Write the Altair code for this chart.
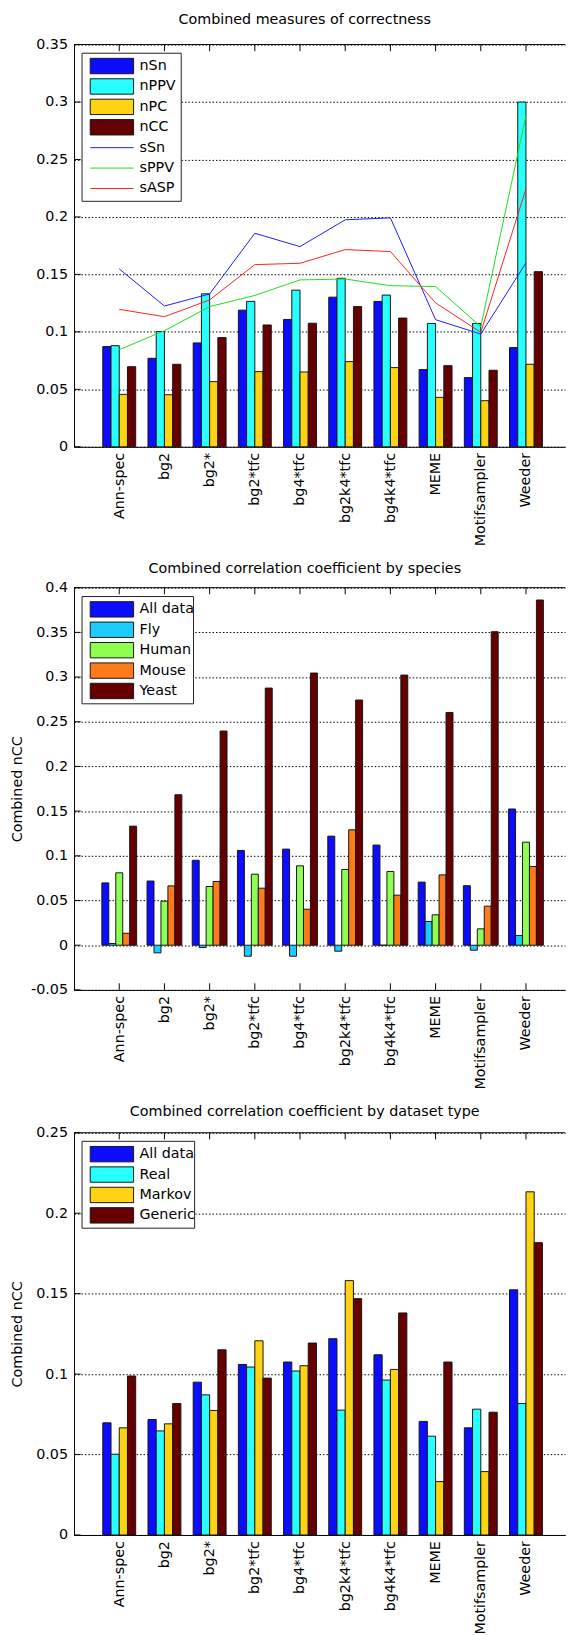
import json
import altair as alt
import pandas as pd

# ---------------- data ----------------
methods = ["Ann-spec", "bg2", "bg2*", "bg2*tfc", "bg4*tfc", "bg2k4*tfc",
           "bg4k4*tfc", "MEME", "Motifsampler", "Weeder"]

# Panel 1: combined measures of correctness
nSn = [0.0872, 0.0770, 0.0904, 0.1189, 0.1108, 0.1302, 0.1265, 0.0672, 0.0602, 0.0863]
nPPV = [0.0880, 0.1003, 0.1331, 0.1265, 0.1363, 0.1466, 0.1320, 0.1073, 0.1073, 0.3000]
nPC = [0.0456, 0.0453, 0.0567, 0.0654, 0.0651, 0.0741, 0.0689, 0.0430, 0.0401, 0.0718]
nCC = [0.0697, 0.0718, 0.0950, 0.1060, 0.1075, 0.1220, 0.1120, 0.0706, 0.0666, 0.1524]
sSn = [0.1548, 0.1225, 0.1330, 0.1858, 0.1742, 0.1975, 0.1992, 0.1106, 0.0981, 0.1600]
sPPV = [0.0845, 0.1010, 0.1220, 0.1317, 0.1452, 0.1460, 0.1402, 0.1394, 0.1045, 0.2883]
sASP = [0.1196, 0.1132, 0.1278, 0.1585, 0.1597, 0.1716, 0.1699, 0.1252, 0.0996, 0.2245]

# Panel 2: by species (All data = nCC)
fly = [0.0019, -0.0086, -0.0026, -0.0123, -0.0123, -0.0067, 0.0, 0.0265, -0.0056, 0.0108]
human = [0.0810, 0.0493, 0.0657, 0.0795, 0.0888, 0.0847, 0.0825, 0.0340, 0.0183, 0.1153]
mouse = [0.0134, 0.0664, 0.0713, 0.0638, 0.0403, 0.1291, 0.0560, 0.0787, 0.0437, 0.0881]
yeast = [0.1332, 0.1683, 0.2396, 0.2877, 0.3045, 0.2743, 0.3022, 0.2604, 0.3507, 0.3862]

# Panel 3: by dataset type (All data = nCC)
real = [0.0502, 0.0647, 0.0871, 0.1044, 0.1019, 0.0776, 0.0963, 0.0614, 0.0782, 0.0817]
markov = [0.0666, 0.0691, 0.0774, 0.1207, 0.1052, 0.1581, 0.1029, 0.0332, 0.0394, 0.2133]
generic = [0.0988, 0.0817, 0.1151, 0.0975, 0.1193, 0.1469, 0.1380, 0.1075, 0.0763, 0.1817]

yticks1 = [0, 0.05, 0.1, 0.15, 0.2, 0.25, 0.3, 0.35]
yticks2 = [-0.05, 0, 0.05, 0.1, 0.15, 0.2, 0.25, 0.3, 0.35, 0.4]
yticks3 = [0, 0.05, 0.1, 0.15, 0.2, 0.25]

# ---------------- style ----------------
FONT = "DejaVu Sans"
FS = 14.5
W, H = 498, 408
UNIT = 45.84
XMAX = W / UNIT
TICK = 6.7

BLUE = "#0c0cff"
CYAN = "#28ffff"
GOLD = "#ffd314"
MAROON = "#660000"


def make_panel(title, bars, lines, colors, bar_w, yticks, show_ytitle, legend_box,
               title_offset):
    nb = len(bars)
    names = [n for n, _ in bars] + [n for n, _ in lines]
    cscale = alt.Scale(domain=names, range=colors)
    xscale = alt.Scale(domain=[0, XMAX], nice=False, zero=False)
    yscale = alt.Scale(domain=[yticks[0], yticks[-1]], nice=False, zero=False)

    xaxis = alt.Axis(
        values=list(range(1, len(methods) + 1)),
        labelExpr=json.dumps(methods) + "[datum.value - 1]",
        labelAngle=270, ticks=False, tickSize=0, grid=False,
        domainColor="black", domainWidth=1,
        labelFont=FONT, labelFontSize=FS, labelColor="black",
        labelPadding=5.7, labelOverlap=False, labelFlush=False, title=None,
    )
    yaxis = alt.Axis(
        values=yticks,
        labelExpr="replace(format(datum.value, '~g'), '\u2212', '-')",
        ticks=False, tickSize=0, grid=True, gridColor="black",
        gridDash=[1.5, 2], gridWidth=1, gridOpacity=1,
        domainColor="black", domainWidth=1,
        labelFont=FONT, labelFontSize=FS, labelColor="black", labelPadding=6.6,
        labelOverlap=False, labelFlush=False,
        title="Combined nCC", titleFont=FONT, titleFontSize=FS,
        titleFontWeight="normal", titleColor="black",
        titleOpacity=1 if show_ytitle else 0,
        titleX=-57.8, titleY=H / 2, titleAngle=270,
        titleAlign="center", titleBaseline="middle",
    )

    rows = []
    for j, (name, vals) in enumerate(bars):
        for i, v in enumerate(vals):
            rows.append({"m": i + 1, "j": j, "series": name, "value": v})
    bar_df = pd.DataFrame(rows)

    bar_layer = alt.Chart(bar_df).transform_calculate(
        xl=f"datum.m + (datum.j - {nb / 2}) * {bar_w}",
        xr=f"datum.m + (datum.j - {nb / 2} + 1) * {bar_w}",
    ).mark_bar(stroke="#151515", strokeWidth=1).encode(
        x=alt.X("xl:Q", scale=xscale, axis=xaxis),
        x2=alt.X2("xr"),
        y=alt.Y("value:Q", scale=yscale, axis=yaxis),
        y2=alt.datum(0),
        color=alt.Color("series:N", scale=cscale, legend=None),
    )

    # inward ticks
    ytick_layer = alt.Chart(pd.DataFrame({"v": yticks})).mark_rule(
        color="black", strokeWidth=1
    ).encode(
        y=alt.Y("v:Q", scale=yscale, axis=yaxis),
        x=alt.value(0), x2=alt.value(TICK),
    )
    xt_df = pd.DataFrame({"m": list(range(1, len(methods) + 1))})
    xtick_top = alt.Chart(xt_df).mark_rule(color="black", strokeWidth=1).encode(
        x=alt.X("m:Q", scale=xscale, axis=xaxis),
        y=alt.value(0), y2=alt.value(TICK),
    )
    xtick_bot = alt.Chart(xt_df).mark_rule(color="black", strokeWidth=1).encode(
        x=alt.X("m:Q", scale=xscale, axis=xaxis),
        y=alt.value(H), y2=alt.value(H - TICK),
    )

    layers = [ytick_layer, xtick_top, xtick_bot, bar_layer]

    if lines:
        lrows = []
        for name, vals in lines:
            for i, v in enumerate(vals):
                lrows.append({"m": i + 1, "series": name, "value": v})
        line_layer = alt.Chart(pd.DataFrame(lrows)).mark_line(strokeWidth=1).encode(
            x=alt.X("m:Q", scale=xscale, axis=xaxis),
            y=alt.Y("value:Q", scale=yscale, axis=yaxis),
            color=alt.Color("series:N", scale=cscale, legend=None),
        )
        layers.append(line_layer)

    one = pd.DataFrame({"a": [0]})
    top_spine = alt.Chart(one).mark_rule(color="black", strokeWidth=1).encode(
        x=alt.value(0), x2=alt.value(W), y=alt.value(0)
    )
    layers.append(top_spine)

    # legend
    bx0, bx1, by0 = legend_box
    n_all = len(names)
    by1 = by0 + 13 + (n_all - 1) * 20.7 + 13
    leg_df = pd.DataFrame({
        "series": names,
        "idx": list(range(n_all)),
        "kind": ["bar"] * nb + ["line"] * len(lines),
    })
    box = alt.Chart(one).mark_rect(fill="white", stroke="#222", strokeWidth=1).encode(
        x=alt.value(bx0), x2=alt.value(bx1), y=alt.value(by0), y2=alt.value(by1)
    )
    leg_base = alt.Chart(leg_df).transform_calculate(
        cy=f"{by0 + 13} + datum.idx * 20.7",
        ya=f"{by0 + 13} + datum.idx * 20.7 - 7.8",
        yb=f"{by0 + 13} + datum.idx * 20.7 + 7.8",
    )
    sw = leg_base.transform_filter("datum.kind == 'bar'").mark_rect(
        stroke="#151515", strokeWidth=1
    ).encode(
        x=alt.value(bx0 + 8.3), x2=alt.value(bx0 + 52.3),
        y=alt.Y("ya:Q", scale=None, axis=None), y2=alt.Y2("yb"),
        color=alt.Color("series:N", scale=cscale, legend=None),
    )
    layers += [box, sw]
    if lines:
        lsw = leg_base.transform_filter("datum.kind == 'line'").mark_rule(
            strokeWidth=1
        ).encode(
            x=alt.value(bx0 + 8.3), x2=alt.value(bx0 + 52.3),
            y=alt.Y("cy:Q", scale=None, axis=None),
            color=alt.Color("series:N", scale=cscale, legend=None),
        )
        layers.append(lsw)
    txt = leg_base.mark_text(
        align="left", baseline="middle", font=FONT, fontSize=FS, color="black"
    ).encode(
        x=alt.value(bx0 + 58.3),
        y=alt.Y("cy:Q", scale=None, axis=None),
        text=alt.Text("series:N"),
    )
    layers.append(txt)

    return alt.layer(*layers).properties(
        width=W, height=H,
        title=alt.TitleParams(
            text=title, font=FONT, fontSize=FS, fontWeight="normal",
            color="black", anchor="middle", frame="group", dx=-15,
            offset=title_offset,
        ),
    )


p1 = make_panel(
    "Combined measures of correctness",
    [("nSn", nSn), ("nPPV", nPPV), ("nPC", nPC), ("nCC", nCC)],
    [("sSn", sSn), ("sPPV", sPPV), ("sASP", sASP)],
    [BLUE, CYAN, GOLD, MAROON, "#1a1aff", "#18e018", "#ff2020"],
    0.182, yticks1, False, (8.1, 108.7, 8.8), 9,
)
p2 = make_panel(
    "Combined correlation coefficient by species",
    [("All data", nCC), ("Fly", fly), ("Human", human), ("Mouse", mouse), ("Yeast", yeast)],
    [],
    [BLUE, "#1ccbff", "#8cff50", "#ff7a1a", MAROON],
    0.154, yticks2, True, (8.1, 121.2, 9.0), 3.8,
)
p3 = make_panel(
    "Combined correlation coefficient by dataset type",
    [("All data", nCC), ("Real", real), ("Markov", markov), ("Generic", generic)],
    [],
    [BLUE, CYAN, GOLD, MAROON],
    0.182, yticks3, True, (8.1, 122.3, 8.7), 5.9,
)

chart = alt.vconcat(p1, p2, p3, spacing=13.9).resolve_scale(
    color="independent"
).properties(
    padding={"left": 1.0, "top": -7.6, "right": 0, "bottom": -8},
    background="white",
).configure_view(stroke=None)

chart.save("out.html", embed_options={"renderer": "svg", "actions": False})
